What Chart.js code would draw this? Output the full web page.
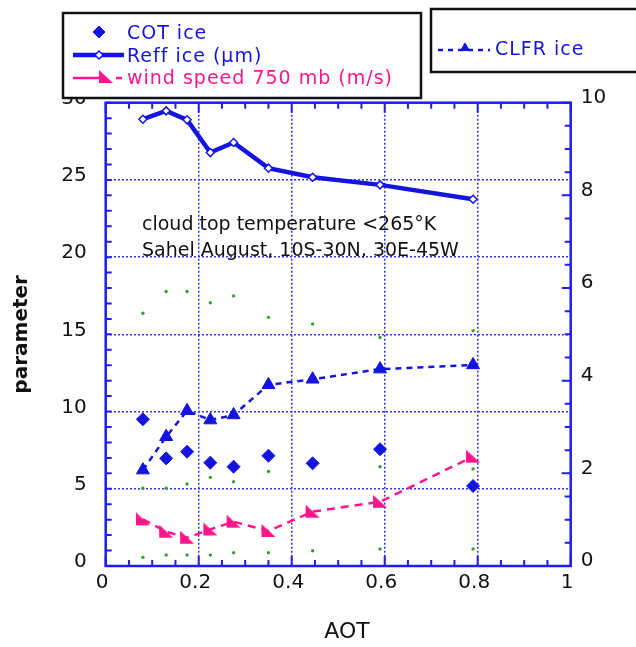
<!DOCTYPE html>
<html>
<head>
<meta charset="utf-8">
<script src="https://cdn.jsdelivr.net/npm/chart.js@4"></script>
<style>
  html, body { margin: 0; padding: 0; background: #fff; }
  #wrap { position: relative; width: 636px; height: 647px; }
</style>
</head>
<body>
<div id="wrap"><canvas id="chart"></canvas></div>
<script>
// AOT bins (x)
const aot = [0.08, 0.13, 0.175, 0.225, 0.275, 0.35, 0.445, 0.59, 0.79];

// left axis series
const cotIce = [9.5, 6.97, 7.4, 6.69, 6.43, 7.14, 6.65, 7.56, 5.18];
const reffIce = [28.93, 29.47, 28.89, 26.77, 27.42, 25.76, 25.17, 24.68, 23.75];
const windSpeed = [3.02, 2.22, 1.83, 2.37, 2.87, 2.27, 3.52, 4.16, 7.08];

// right axis series
const clfrIce = [2.07, 2.79, 3.35, 3.15, 3.26, 3.91, 4.03, 4.25, 4.34];

// small green dots (spread)
const spreadHigh = [16.37, 17.77, 17.77, 17.05, 17.49, 16.1, 15.67, 14.8, 15.24];
const spreadMid = [5.03, 5.03, 5.31, 5.74, 5.46, 6.12, null, 6.43, 6.28];
const spreadLow = [0.56, 0.71, 0.71, 0.71, 0.86, 0.86, 0.99, 1.1, 1.1];

// tick labels
const xTicks = [0, 0.2, 0.4, 0.6, 0.8, 1];
const leftTicks = [0, 5, 10, 15, 20, 25, 30];
const rightTicks = [0, 2, 4, 6, 8, 10];

const BLUE = '#1414e0';
const AXIS = '#1e1ef0';
const GRID = '#3434f4';
const PINK = '#ff168c';
const GREEN = '#34a034';
const FONT = '"DejaVu Sans", Verdana, sans-serif';

const pts = vals => aot.map((x, i) => ({ x, y: vals[i] }));

// pink flag-like triangle marker
function windMarker() {
  const c = document.createElement('canvas');
  c.width = 16; c.height = 14;
  const g = c.getContext('2d');
  g.fillStyle = PINK;
  g.beginPath();
  g.moveTo(1, 0);
  g.lineTo(1, 13);
  g.lineTo(15, 13);
  g.closePath();
  g.fill();
  return c;
}
const windPoint = windMarker();

const datasets = [
  {
    label: 'COT ice', data: pts(cotIce), yAxisID: 'y', showLine: false,
    pointStyle: 'rectRot', pointRadius: 6.5, pointBackgroundColor: BLUE,
    pointBorderColor: BLUE, pointBorderWidth: 1
  },
  {
    label: 'Reff ice (μm)', data: pts(reffIce), yAxisID: 'y',
    borderColor: BLUE, borderWidth: 4.5,
    pointStyle: 'rectRot', pointRadius: 4, pointBackgroundColor: '#fff',
    pointBorderColor: BLUE, pointBorderWidth: 1.5
  },
  {
    label: 'wind speed 750 mb (m/s)', data: pts(windSpeed), yAxisID: 'y',
    borderColor: PINK, borderWidth: 2.5, borderDash: [8, 6],
    pointStyle: windPoint, pointRadius: 7
  },
  {
    label: 'CLFR ice', data: pts(clfrIce), yAxisID: 'y1',
    borderColor: BLUE, borderWidth: 2.5, borderDash: [6, 5],
    pointStyle: 'triangle', pointRadius: 7.5, pointBackgroundColor: BLUE,
    pointBorderColor: BLUE, pointBorderWidth: 1
  },
  ...[spreadHigh, spreadMid, spreadLow].map(vals => ({
    label: '', data: pts(vals), yAxisID: 'y', showLine: false,
    pointStyle: 'circle', pointRadius: 1.7, pointBackgroundColor: GREEN,
    pointBorderWidth: 0
  }))
];

// inward tick marks and the blue frame
const frame = {
  id: 'frame',
  afterDatasetsDraw(chart) {
    const { ctx, chartArea: a, scales: { x, y, y1 } } = chart;
    ctx.save();
    ctx.strokeStyle = AXIS;
    ctx.lineWidth = 2;
    ctx.beginPath();
    for (let i = 0; i <= 20; i++) {
      const px = x.getPixelForValue(i / 20);
      const len = i % 4 === 0 ? 10 : 6;
      ctx.moveTo(px, a.bottom); ctx.lineTo(px, a.bottom - len);
      ctx.moveTo(px, a.top); ctx.lineTo(px, a.top + len);
    }
    for (let v = 0; v <= 30; v++) {
      const py = y.getPixelForValue(v);
      ctx.moveTo(a.left, py); ctx.lineTo(a.left + 6, py);
    }
    for (let i = 0; i <= 20; i++) {
      const py = y1.getPixelForValue(i / 2);
      const len = i % 4 === 0 ? 9 : 6;
      ctx.moveTo(a.right, py); ctx.lineTo(a.right - len, py);
    }
    ctx.stroke();
    ctx.lineWidth = 2.5;
    ctx.strokeRect(a.left, a.top, a.right - a.left, a.bottom - a.top);
    ctx.restore();
  }
};

// titles, note and the two legend boxes
const decorations = {
  id: 'decorations',
  afterDraw(chart) {
    const { ctx, chartArea: a } = chart;
    const ds = chart.data.datasets;
    ctx.save();
    ctx.fillStyle = '#111';

    ctx.font = '22px ' + FONT;
    ctx.textAlign = 'center';
    ctx.textBaseline = 'middle';
    ctx.fillText('AOT', 347, 632);

    ctx.save();
    ctx.translate(22, (a.top + a.bottom) / 2);
    ctx.rotate(-Math.PI / 2);
    ctx.font = 'bold 20px ' + FONT;
    ctx.fillText('parameter', 0, 0);
    ctx.restore();

    ctx.font = '19px ' + FONT;
    ctx.textAlign = 'left';
    ctx.textBaseline = 'alphabetic';
    ctx.fillText('cloud top temperature <265°K', 142, 229.5);
    ctx.fillText('Sahel August, 10S-30N, 30E-45W', 142, 255.5);

    // left legend box
    ctx.fillStyle = '#fff';
    ctx.fillRect(63, 13, 358, 85);
    ctx.strokeStyle = '#111';
    ctx.lineWidth = 2.5;
    ctx.strokeRect(63, 13, 358, 85);
    // right legend box
    ctx.fillRect(431, 9, 220, 63);
    ctx.strokeRect(431, 9, 220, 63);

    const pointOpts = d => ({
      pointStyle: d.pointStyle, radius: d.pointRadius, rotation: 0,
      borderWidth: d.pointBorderWidth || 0
    });
    const mark = (d, px, py) => {
      ctx.fillStyle = d.pointBackgroundColor || d.borderColor;
      ctx.strokeStyle = d.pointBorderColor || d.borderColor;
      ctx.lineWidth = d.pointBorderWidth || 0;
      Chart.helpers.drawPoint(ctx, pointOpts(d), px, py);
    };
    const seg = (d, x0, x1, py) => {
      ctx.strokeStyle = d.borderColor;
      ctx.lineWidth = d.borderWidth;
      ctx.beginPath(); ctx.moveTo(x0, py); ctx.lineTo(x1, py); ctx.stroke();
    };

    ctx.font = '19px ' + FONT;
    ctx.letterSpacing = '1px';

    // COT ice
    mark({ ...ds[0], pointRadius: 6 }, 99, 32);
    ctx.fillStyle = BLUE;
    ctx.fillText(ds[0].label, 127, 38.5);

    // Reff ice
    seg(ds[1], 73, 124, 55);
    mark(ds[1], 99, 55);
    ctx.fillStyle = BLUE;
    ctx.fillText(ds[1].label, 127, 61.5);

    // wind speed
    seg(ds[2], 73, 101, 78);
    seg(ds[2], 116, 122, 78);
    mark(ds[2], 106, 77);
    ctx.fillStyle = PINK;
    ctx.fillText(ds[2].label, 127, 83.5);

    // CLFR ice
    ctx.setLineDash([5, 5]);
    seg(ds[3], 438, 490, 50);
    ctx.setLineDash([]);
    mark({ ...ds[3], pointRadius: 5 }, 465, 48);
    ctx.fillStyle = BLUE;
    ctx.fillText(ds[3].label, 495, 55);

    ctx.restore();
  }
};

const tickFont = { family: FONT, size: 20 };
const edgeless = (lo, hi) => c =>
  (c.tick && (c.tick.value === lo || c.tick.value === hi)) ? 'rgba(0,0,0,0)' : GRID;

new Chart(document.getElementById('chart'), {
  type: 'line',
  data: { datasets },
  options: {
    responsive: true,
    maintainAspectRatio: false,
    animation: false,
    layout: { padding: { top: 102.7, left: 0, right: 0, bottom: 0 } },
    plugins: { legend: { display: false }, tooltip: { enabled: false } },
    scales: {
      x: {
        type: 'linear', min: 0, max: 1,
        afterBuildTicks: s => { s.ticks = xTicks.map(value => ({ value })); },
        afterFit: s => { s.height = 81; },
        grid: { color: edgeless(0, 1), lineWidth: 1.5, drawTicks: false },
        border: { display: false, dash: [2, 2] },
        ticks: {
          font: tickFont, color: '#111', padding: 4.5, labelOffset: -3.5,
          maxRotation: 0, autoSkip: false,
          callback: v => String(v)
        }
      },
      y: {
        type: 'linear', position: 'left', min: 0, max: 30,
        afterBuildTicks: s => { s.ticks = leftTicks.map(value => ({ value })); },
        afterFit: s => { s.width = 105.7; },
        grid: { color: edgeless(0, 30), lineWidth: 1.5, drawTicks: false },
        border: { display: false, dash: [2, 2] },
        ticks: { font: tickFont, color: '#111', padding: 19, labelOffset: -4 }
      },
      y1: {
        type: 'linear', position: 'right', min: 0, max: 10,
        afterBuildTicks: s => { s.ticks = rightTicks.map(value => ({ value })); },
        afterFit: s => { s.width = 65.3; },
        grid: { display: false, drawTicks: false },
        border: { display: false },
        ticks: { font: tickFont, color: '#111', padding: 10, labelOffset: -5 }
      }
    }
  },
  plugins: [frame, decorations]
});
</script>
</body>
</html>
